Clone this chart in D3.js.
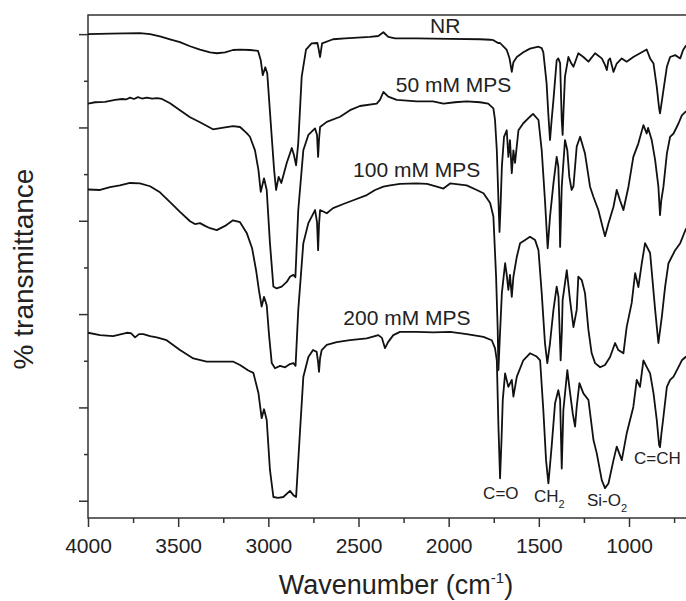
<!DOCTYPE html>
<html>
<head>
<meta charset="utf-8">
<script src="https://cdn.jsdelivr.net/npm/d3@7"></script>
<style>
body { margin: 0; background: #fff; }
text { font-family: "Liberation Sans", Arial, sans-serif; fill: #222; }
</style>
</head>
<body>
<script>
// FTIR spectra, [wavenumber (cm-1), % transmittance (stacked, arbitrary offset)]
var nr = [[4000,100.0],[3878,100.1],[3712,100.2],[3656,100.0],[3601,99.5],[3545,98.9],[3490,98.3],[3434,97.4],[3379,96.7],[3323,96.1],[3285,95.9],[3240,96.1],[3196,96.6],[3157,96.7],[3102,96.6],[3057,96.4],[3042,94.4],[3031,91.2],[3017,92.9],[3006,91.6],[2981,77.9],[2968,70.9],[2957,66.6],[2943,69.4],[2928,68.1],[2898,72.4],[2870,75.6],[2858,74.1],[2846,71.9],[2834,76.7],[2815,90.9],[2791,96.7],[2760,98.0],[2728,98.1],[2722,97.0],[2713,95.1],[2702,98.0],[2641,98.9],[2575,99.1],[2436,99.4],[2390,99.6],[2362,100.4],[2335,99.4],[2297,99.1],[2177,99.1],[1992,99.0],[1826,98.9],[1770,98.8],[1752,98.7],[1726,98.1],[1715,98.1],[1678,96.6],[1663,94.9],[1650,91.9],[1641,94.0],[1622,95.1],[1586,96.1],[1549,96.9],[1502,97.3],[1484,97.0],[1475,96.1],[1457,89.5],[1447,82.6],[1438,77.3],[1429,81.6],[1419,85.9],[1401,94.4],[1392,94.8],[1382,93.8],[1373,81.6],[1368,78.4],[1363,83.7],[1355,90.9],[1336,95.1],[1321,93.8],[1308,93.0],[1281,95.9],[1253,95.1],[1225,94.1],[1188,95.9],[1151,94.8],[1133,93.4],[1123,92.3],[1114,94.4],[1105,94.8],[1086,91.9],[1068,93.7],[1040,94.8],[1013,94.1],[976,95.1],[939,95.9],[902,96.7],[883,94.8],[864,93.7],[846,88.7],[833,84.1],[828,83.0],[821,84.8],[809,88.0],[790,93.0],[772,95.1],[744,95.5],[716,94.8],[700,96.6],[683,97.6]];

var mps50 = [[4000,85.1],[3961,85.4],[3906,85.5],[3850,85.9],[3811,86.1],[3789,86.0],[3767,86.4],[3745,86.1],[3723,86.5],[3701,86.2],[3673,86.4],[3645,86.2],[3617,86.3],[3590,86.1],[3545,85.2],[3490,83.7],[3434,82.2],[3379,81.1],[3307,79.6],[3257,79.9],[3196,80.3],[3157,80.1],[3120,78.8],[3102,78.0],[3074,75.1],[3055,70.9],[3042,66.2],[3024,69.1],[3009,66.6],[2991,55.2],[2972,45.9],[2954,45.5],[2926,45.9],[2898,46.9],[2880,48.0],[2861,48.4],[2850,47.9],[2834,62.3],[2806,75.1],[2778,78.4],[2741,79.8],[2730,78.4],[2724,73.7],[2719,77.3],[2713,80.1],[2676,81.2],[2602,82.3],[2547,83.7],[2492,84.6],[2399,85.1],[2381,85.9],[2362,87.6],[2335,86.6],[2288,85.9],[2177,85.6],[2087,85.6],[2029,85.1],[1965,85.4],[1900,85.6],[1826,85.4],[1781,85.1],[1752,84.1],[1743,81.6],[1733,75.1],[1724,64.4],[1718,57.6],[1712,63.4],[1705,71.6],[1693,78.0],[1678,79.4],[1669,73.7],[1660,77.3],[1650,70.2],[1641,75.1],[1632,72.4],[1613,79.4],[1586,80.9],[1549,82.3],[1532,82.9],[1502,81.6],[1484,75.1],[1466,64.4],[1451,54.1],[1438,60.9],[1419,68.0],[1401,73.7],[1392,71.6],[1386,64.4],[1382,54.4],[1377,61.2],[1373,67.3],[1355,77.3],[1342,75.1],[1331,69.4],[1318,66.6],[1308,67.4],[1290,75.9],[1271,78.0],[1244,74.4],[1216,67.3],[1197,65.1],[1170,62.3],[1142,58.0],[1133,56.7],[1114,59.4],[1086,63.0],[1068,66.6],[1050,64.4],[1031,62.3],[1003,67.3],[976,73.7],[948,76.6],[920,80.5],[902,78.7],[894,79.9],[874,77.3],[855,73.0],[837,67.3],[828,61.2],[821,64.4],[809,67.3],[790,74.4],[772,78.0],[753,78.7],[725,80.9],[707,82.6],[683,83.5]];

var mps100 = [[4000,66.7],[3933,66.6],[3878,67.2],[3823,67.6],[3767,68.1],[3712,68.0],[3656,67.4],[3601,66.1],[3545,64.0],[3490,61.9],[3434,59.9],[3407,59.3],[3379,59.5],[3351,58.9],[3323,58.4],[3286,58.0],[3240,58.9],[3196,60.1],[3157,59.7],[3120,57.4],[3090,54.1],[3068,49.4],[3052,45.1],[3037,41.6],[3024,43.7],[3009,41.9],[2996,35.5],[2981,29.5],[2963,28.4],[2935,28.9],[2907,28.6],[2880,29.3],[2861,29.5],[2849,28.9],[2834,40.9],[2806,55.2],[2778,59.5],[2741,62.3],[2730,59.7],[2724,53.7],[2719,59.1],[2713,62.3],[2676,61.6],[2641,62.7],[2584,63.6],[2529,64.4],[2454,65.5],[2408,66.6],[2362,67.3],[2325,67.6],[2270,67.9],[2177,68.0],[2120,67.9],[2066,67.3],[2029,66.9],[1992,68.0],[1900,67.6],[1844,66.6],[1807,65.9],[1770,63.8],[1752,60.9],[1737,48.0],[1728,36.6],[1724,28.0],[1717,34.4],[1705,44.5],[1687,50.9],[1678,48.4],[1669,45.2],[1660,48.4],[1650,43.7],[1641,48.0],[1622,52.3],[1604,55.2],[1576,55.9],[1549,56.6],[1521,55.9],[1502,53.7],[1484,44.5],[1466,33.8],[1453,29.5],[1438,33.8],[1419,40.9],[1401,45.9],[1391,43.7],[1379,30.1],[1372,36.6],[1368,43.0],[1345,49.4],[1327,43.0],[1308,37.2],[1290,40.9],[1281,48.0],[1262,47.3],[1244,44.5],[1225,36.6],[1207,31.6],[1188,29.5],[1160,28.6],[1133,29.1],[1105,30.8],[1077,33.8],[1059,32.3],[1031,31.6],[1013,37.2],[985,42.4],[966,48.8],[948,45.8],[929,50.9],[911,55.2],[883,53.1],[855,40.9],[837,33.8],[818,39.4],[800,45.8],[781,50.9],[744,53.7],[716,55.2],[683,58.4]];

var mps200 = [[4000,36.0],[3933,35.5],[3861,35.3],[3785,36.0],[3762,35.9],[3739,35.0],[3717,35.7],[3693,35.7],[3656,35.3],[3619,35.0],[3564,34.4],[3490,32.3],[3416,30.5],[3342,29.8],[3268,29.8],[3194,29.8],[3157,29.1],[3111,27.9],[3083,27.4],[3055,23.1],[3037,17.7],[3024,19.6],[3009,17.3],[2991,6.6],[2972,0.8],[2946,0.6],[2917,0.8],[2880,2.1],[2861,1.2],[2846,0.8],[2824,15.1],[2806,26.5],[2778,30.8],[2752,32.3],[2732,31.9],[2724,29.7],[2719,27.6],[2713,30.6],[2704,32.3],[2676,33.4],[2621,34.0],[2547,34.4],[2454,34.8],[2390,35.5],[2370,34.9],[2353,32.7],[2336,34.0],[2307,35.5],[2270,36.2],[2177,36.2],[2085,36.1],[1992,36.2],[1900,35.7],[1807,35.1],[1761,34.4],[1743,32.7],[1733,30.1],[1724,15.9],[1715,4.8],[1707,13.0],[1700,21.6],[1687,27.3],[1669,24.4],[1650,25.9],[1641,22.3],[1622,26.6],[1586,30.1],[1549,31.6],[1512,30.9],[1493,30.1],[1475,19.4],[1460,8.7],[1447,3.7],[1429,11.6],[1410,20.9],[1392,23.7],[1382,21.6],[1373,6.9],[1364,19.4],[1342,28.0],[1331,24.4],[1312,18.7],[1299,15.9],[1290,20.1],[1275,25.2],[1253,23.0],[1225,21.6],[1197,13.0],[1179,10.2],[1151,4.4],[1133,2.7],[1114,3.7],[1086,8.7],[1068,11.6],[1040,8.7],[1013,14.4],[976,20.1],[957,25.9],[939,24.4],[920,30.1],[902,28.7],[883,27.3],[864,23.0],[846,17.3],[833,11.9],[828,11.5],[821,14.1],[809,18.0],[790,24.4],[772,25.9],[753,26.6],[725,28.7],[707,30.1],[683,30.9]];

var seriesNames = ["NR", "50 mM MPS", "100 mM MPS", "200 mM MPS"];
// where each series name sits, in data units [wavenumber, transmittance]
var seriesLabelAt = [[2103, 100.2], [2293, 87.6], [2530, 69.4], [2584, 37.6]];

var bandNames = ["C=O", "CH", "Si-O", "C=CH"];
var bandSubs = ["", "2", "2", ""];
var bandLabelAt = [[1809, 0.4], [1527, -0.3], [1233, -1.1], [972, 7.9]];

var xMajor = [4000, 3500, 3000, 2500, 2000, 1500, 1000];
var xMinor = [3750, 3250, 2750, 2250, 1750, 1250, 750];
var yMajor = [0, 20, 40, 60, 80, 100];
var yMinor = [10, 30, 50, 70, 90];

var width = 686, height = 601;
var mLeft = 88, mTop = 15, mBottom = 518;
var mRight = 88 + 3350 * 541 / 3000;   // frame runs past the picture edge

var svg = d3.select("body")
        .append("svg")
        .attr("width", width)
        .attr("height", height);

var x = d3.scaleLinear().domain([4000, 650]).range([mLeft, mRight]);
var y = d3.scaleLinear().domain([-3.7, 104.1]).range([mBottom, mTop]);

svg.append("clipPath")
        .attr("id", "plotClip")
        .append("rect")
        .attr("x", mLeft)
        .attr("y", mTop)
        .attr("width", mRight - mLeft)
        .attr("height", mBottom - mTop);

// axes (ticks outside, no labels on y)
function styleAxis(g) {
    g.select(".domain").remove();
    g.selectAll(".tick line").attr("stroke", "#333").attr("stroke-width", 1.5);
    g.selectAll("text")
        .attr("font-size", 21)
        .attr("font-family", "'Liberation Sans', Arial, sans-serif")
        .attr("fill", "#222");
}

svg.append("g")
        .attr("transform", "translate(0," + mBottom + ")")
        .call(d3.axisBottom(x).tickValues(xMajor).tickSize(9).tickPadding(11).tickFormat(d3.format("d")))
        .call(styleAxis);

svg.append("g")
        .attr("transform", "translate(0," + mBottom + ")")
        .call(d3.axisBottom(x).tickValues(xMinor).tickSize(5).tickFormat(""))
        .call(styleAxis);

svg.append("g")
        .attr("transform", "translate(" + mLeft + ",0)")
        .call(d3.axisLeft(y).tickValues(yMajor).tickSize(9).tickFormat(""))
        .call(styleAxis);

svg.append("g")
        .attr("transform", "translate(" + mLeft + ",0)")
        .call(d3.axisLeft(y).tickValues(yMinor).tickSize(4).tickFormat(""))
        .call(styleAxis);

svg.append("rect")
        .attr("x", mLeft)
        .attr("y", mTop)
        .attr("width", mRight - mLeft)
        .attr("height", mBottom - mTop)
        .attr("fill", "none")
        .attr("stroke", "#333")
        .attr("stroke-width", 1.5);

var line = d3.line()
        .x(function(d) { return x(d[0]); })
        .y(function(d) { return y(d[1]); });

svg.append("g")
        .attr("clip-path", "url(#plotClip)")
        .selectAll("path")
        .data([nr, mps50, mps100, mps200])
        .enter()
        .append("path")
        .attr("d", line)
        .attr("fill", "none")
        .attr("stroke", "#111")
        .attr("stroke-width", 1.8)
        .attr("stroke-linejoin", "round");

svg.selectAll(".seriesLabel")
        .data(seriesNames)
        .enter()
        .append("text")
        .attr("class", "seriesLabel")
        .attr("x", function(d, i) { return x(seriesLabelAt[i][0]); })
        .attr("y", function(d, i) { return y(seriesLabelAt[i][1]); })
        .attr("font-size", 21)
        .text(function(d) { return d; });

var bands = svg.selectAll(".bandLabel")
        .data(bandNames)
        .enter()
        .append("text")
        .attr("class", "bandLabel")
        .attr("x", function(d, i) { return x(bandLabelAt[i][0]); })
        .attr("y", function(d, i) { return y(bandLabelAt[i][1]); })
        .attr("font-size", 17);

bands.append("tspan").text(function(d) { return d; });
bands.append("tspan")
        .attr("font-size", 11)
        .attr("dy", 6)
        .text(function(d, i) { return bandSubs[i]; });

// axis titles
var xTitle = svg.append("text")
        .attr("x", 396)
        .attr("y", 594)
        .attr("text-anchor", "middle")
        .attr("font-size", 27);
xTitle.append("tspan").text("Wavenumber (cm");
xTitle.append("tspan").attr("font-size", 15).attr("dy", -11).text("-1");
xTitle.append("tspan").attr("dy", 11).text(")");

svg.append("text")
        .attr("transform", "translate(33,269) rotate(-90)")
        .attr("text-anchor", "middle")
        .attr("font-size", 28)
        .text("% transmittance");
</script>
</body>
</html>
